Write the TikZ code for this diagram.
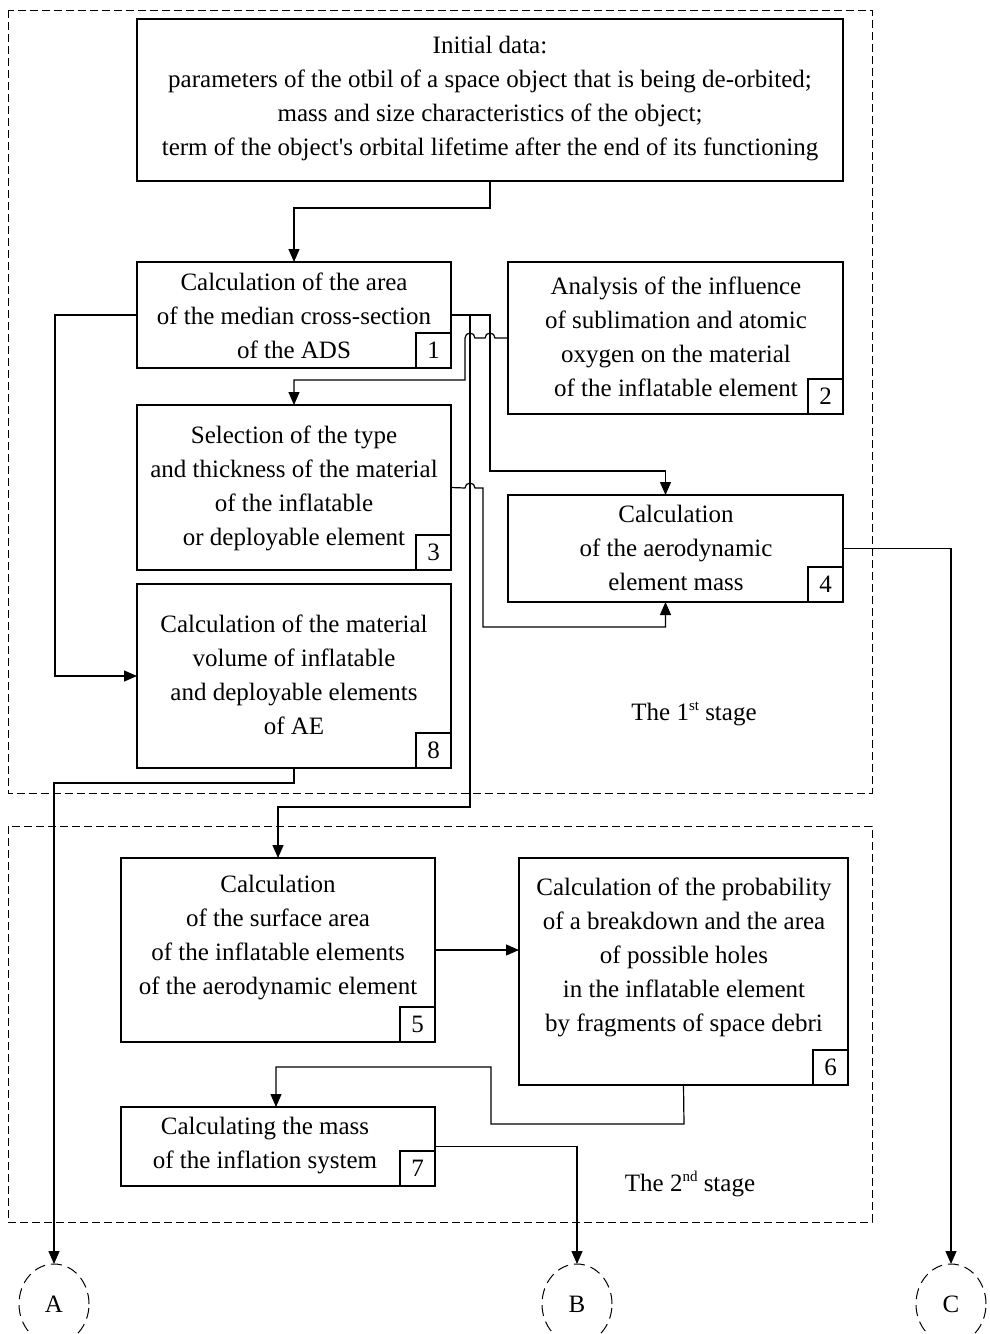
\documentclass[tikz,border=0pt]{standalone}
\usepackage{fontspec}
\setmainfont{Liberation Serif}[Ligatures=TeXOff]
\usetikzlibrary{arrows.meta,shapes.geometric}
\begin{document}
\begin{tikzpicture}[x=1pt,y=-1pt,
  every node/.style={font=\fontsize{25}{34}\selectfont},
  box/.style={draw,line width=1.2pt,rectangle,anchor=north west,inner sep=0pt,outer sep=0pt},
  numbox/.style={draw,line width=1.2pt,rectangle,anchor=south east,minimum size=35pt,inner sep=0pt,outer sep=0pt},
  txt/.style={align=center,inner sep=0pt},
  stageframe/.style={draw,line width=1pt,dash pattern=on 8pt off 4pt},
  link/.style={draw,line width=1.2pt},
  arr/.style={link,-{Triangle[length=13pt,width=11pt]}},
  endpoint/.style={draw,line width=1pt,dash pattern=on 11pt off 6pt,ellipse,minimum width=70pt,minimum height=80pt,inner sep=0pt,outer sep=0pt}
]
\useasboundingbox (0,0) rectangle (989,1334);

% stage frames
\draw[stageframe] (8,10) rectangle (872,793);
\draw[stageframe] (8,826) rectangle (872,1222);

% boxes
\node[box,minimum width=706pt,minimum height=162pt] (b0) at (137,19) {};
\node[box,minimum width=314pt,minimum height=106pt] (b1) at (137,262) {};
\node[box,minimum width=335pt,minimum height=152pt] (b2) at (508,262) {};
\node[box,minimum width=314pt,minimum height=165pt] (b3) at (137,405) {};
\node[box,minimum width=335pt,minimum height=107pt] (b4) at (508,495) {};
\node[box,minimum width=314pt,minimum height=184pt] (b8) at (137,584) {};
\node[box,minimum width=314pt,minimum height=184pt] (b5) at (121,858) {};
\node[box,minimum width=329pt,minimum height=227pt] (b6) at (519,858) {};
\node[box,minimum width=314pt,minimum height=79pt] (b7) at (121,1107) {};

% numbers
\node[numbox] (n1) at (b1.south east) {1};
\node[numbox] (n2) at (b2.south east) {2};
\node[numbox] (n3) at (b3.south east) {3};
\node[numbox] (n4) at (b4.south east) {4};
\node[numbox] (n8) at (b8.south east) {8};
\node[numbox] (n5) at (b5.south east) {5};
\node[numbox] (n6) at (b6.south east) {6};
\node[numbox] (n7) at (b7.south east) {7};

% texts
\node[txt] (t0) at (490,99) {Initial data:\\parameters of the otbil of a space object that is being de-orbited;\\mass and size characteristics of the object;\\term of the object's orbital lifetime after the end of its functioning};
\node[txt] (t1) at (294,316) {Calculation of the area\\of the median cross-section\\of the ADS};
\node[txt] (t2) at (676,337) {Analysis of the influence\\of sublimation and atomic\\oxygen on the material\\ of the inflatable element};
\node[txt] (t3) at (294,488) {Selection of the type\\and thickness of the material\\of the inflatable\\or deployable element};
\node[txt] (t4) at (676,548) {Calculation\\of the aerodynamic\\element mass};
\node[txt] (t8) at (294,675) {Calculation of the material\\volume of inflatable\\and deployable elements\\of AE};
\node[txt] (t5) at (278,938) {Calculation\\of the surface area\\of the inflatable elements\\of the aerodynamic element};
\node[txt] (t6) at (684,957) {Calculation of the probability\\of a breakdown and the area\\of possible holes\\in the inflatable element\\by fragments of space debri};
\node[txt] (t7) at (265,1146) {Calculating the mass\\of the inflation system};

\node[txt] (s1) at (694,714) {The 1\raisebox{10pt}{\fontsize{15}{15}\selectfont st} stage};
\node[txt] (s2) at (690,1184) {The 2\raisebox{10pt}{\fontsize{15}{15}\selectfont nd} stage};

% off-page connectors
\node[endpoint] (A) at (54,1304) {A};
\node[endpoint] (B) at (577,1304) {B};
\node[endpoint] (C) at (951,1304) {C};

% connectors
\draw[arr] (b0.south) -- ++(0,27) -| (b1.north);
\draw[arr] (b1.west) -- (55,315) |- (b8.west);
\draw[arr] (b1.east) -- (470,315) -- (470,807) -| (b5.north);
\draw[arr] (470,315) -- (490,315) -- (490,471) -| ([xshift=-10pt]b4.north);
\draw[arr] (b2.west) -- (495,338) arc[start angle=0,end angle=180,radius=5pt]
  -- (475,338) arc[start angle=0,end angle=180,radius=5pt]
  -- (465,380) -| (b3.north);
\draw[arr] (b3.east) -- (465,488) arc[start angle=180,end angle=0,radius=5pt]
  -- (483,488) -- (483,627) -| ([xshift=-10pt]b4.south);
\draw[arr] (b4.east) -| (C.north);
\draw[arr] (b8.south) -- (294,783) -| (A.north);
\draw[arr] (b5.east) -- (b5.east -| b6.west);
\draw[arr] (b6.south) -- (684,1124) -- (491,1124) -- (491,1067) -| ([xshift=-2pt]b7.north);
\draw[arr] (b7.east) -| (B.north);
\end{tikzpicture}
\end{document}
